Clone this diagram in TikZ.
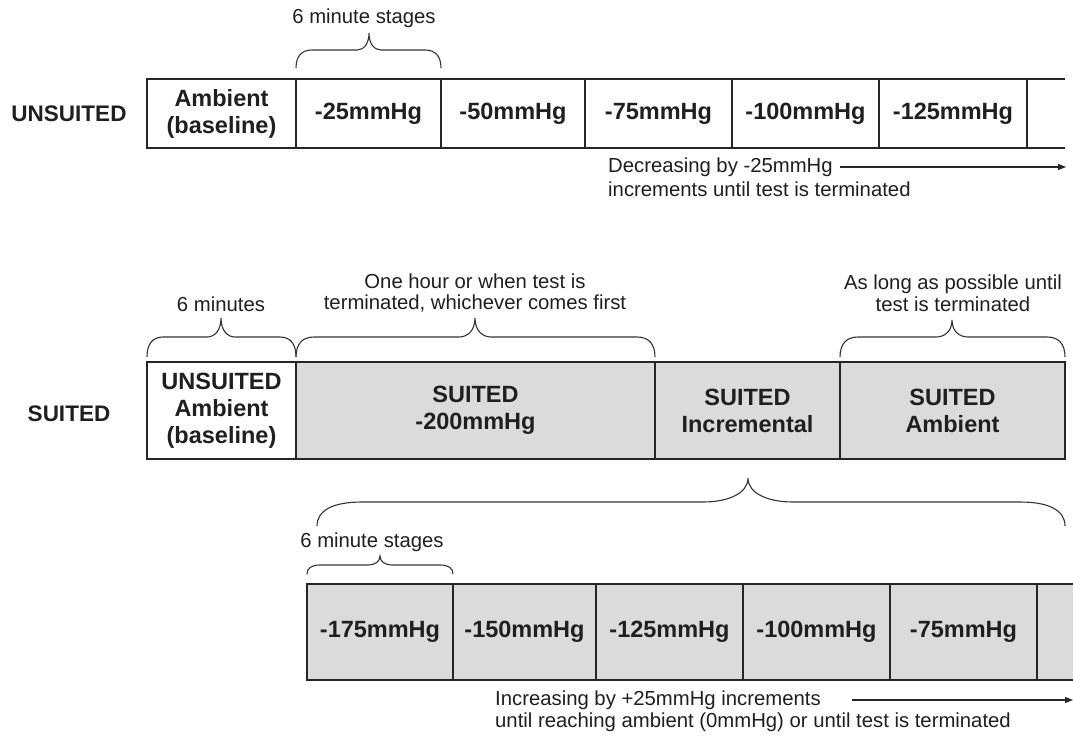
\documentclass[tikz,border=0pt]{standalone}
\usepackage{fontspec}
\setmainfont{Liberation Sans}
\usetikzlibrary{arrows.meta}
\newcommand\pbrace[8]{% x1, x2, xt, yend, yh, ytip, r, s
  \draw[bracestyle] (#1,#4) .. controls (#1,{#5+0.35*(#4-#5)}) and ({#1+0.35*#7},#5) .. ({#1+#7},#5)
   -- ({#3-#8},#5) .. controls ({#3-0.45*#8},#5) and (#3,{#5-0.35*(#5-#6)}) .. (#3,#6)
   .. controls (#3,{#5-0.35*(#5-#6)}) and ({#3+0.45*#8},#5) .. ({#3+#8},#5)
   -- ({#2-#7},#5) .. controls ({#2-0.35*#7},#5) and (#2,{#5+0.35*(#4-#5)}) .. (#2,#4);}
\tikzset{
  cell/.style={draw=black!85, line width=1.3pt, inner sep=0pt, outer sep=0pt, anchor=north west, align=center,
    font=\bfseries\fontsize{23.5}{27}\selectfont, text=black!88},
  gcell/.style={cell, fill=black!14},
  rowlabel/.style={font=\bfseries\fontsize{22.5}{27}\selectfont, text=black!88},
  note/.style={font=\fontsize{20.3}{21.5}\selectfont, text=black!88, inner sep=0pt, align=center},
  bracestyle/.style={draw=black!80, line width=1.1pt},
  openline/.style={draw=black!85, line width=1.3pt},
  arr/.style={draw=black!85, line width=1.1pt, -{Triangle[length=8pt,width=6pt]}}
}
\begin{document}
\begin{tikzpicture}[x=1pt,y=-1pt]
\useasboundingbox (0,0) rectangle (1073,736);
% ---------- UNSUITED row ----------
\node[rowlabel] (lu) at (69,114) {UNSUITED};
\node[cell, minimum width=149pt, minimum height=69pt] (u0) at (147,79) {Ambient\\(baseline)};
\node[cell, minimum width=145pt, minimum height=69pt] (u1) at (296,79) {-25mmHg};
\node[cell, minimum width=144pt, minimum height=69pt] (u2) at (441,79) {-50mmHg};
\node[cell, minimum width=147pt, minimum height=69pt] (u3) at (585,79) {-75mmHg};
\node[cell, minimum width=147pt, minimum height=69pt] (u4) at (732,79) {-100mmHg};
\node[cell, minimum width=148pt, minimum height=69pt] (u5) at (879,79) {-125mmHg};
\coordinate (uend1) at (1065,79);
\coordinate (uend2) at (1065,148);
\draw[openline] (u5.north east) -- (uend1);
\draw[openline] (u5.south east) -- (uend2);
\node[note] (t6a) at (364,18) {6 minute stages};
\pbrace{296}{441}{369}{68}{50}{33}{16}{12}
\node[note, anchor=west] (dec1) at (608,167) {Decreasing by -25mmHg};
\node[note, anchor=west] (dec2) at (608,189) {increments until test is terminated};
\coordinate (da1) at (840,167);
\coordinate (da2) at (1066,167);
\draw[arr] (da1) -- (da2);
% ---------- SUITED row ----------
\node[rowlabel] (ls) at (69,414) {SUITED};
\node[cell, minimum width=149pt, minimum height=97pt] (s0) at (147,362) {UNSUITED\\Ambient\\(baseline)};
\node[gcell, minimum width=359pt, minimum height=97pt] (s1) at (296,362) {SUITED\\-200mmHg};
\node[gcell, minimum width=185pt, minimum height=97pt] (s2) at (655,362) {SUITED\\Incremental};
\node[gcell, minimum width=225pt, minimum height=97pt] (s3) at (840,362) {SUITED\\Ambient};
\node[note] (t6m) at (221,304) {6 minutes};
\node[note] (t1h) at (475,293) {One hour or when test is\\terminated, whichever comes first};
\node[note] (tlong) at (953,293) {As long as possible until\\test is terminated};
\pbrace{147}{296}{221}{357}{337}{318}{16}{14}
\pbrace{296}{655}{475}{357}{337}{318}{18}{16}
\pbrace{840}{1065}{952}{357}{337}{320}{18}{16}
% big brace
\pbrace{317}{1065}{748}{526}{502}{478}{45}{45}
% ---------- Incremental row ----------
\node[note] (t6b) at (372,542) {6 minute stages};
\pbrace{307}{453}{380}{574}{565}{556}{13}{12}
\node[gcell, minimum width=146pt, minimum height=96pt] (b0) at (307,584) {-175mmHg};
\node[gcell, minimum width=143pt, minimum height=96pt] (b1) at (453,584) {-150mmHg};
\node[gcell, minimum width=147pt, minimum height=96pt] (b2) at (596,584) {-125mmHg};
\node[gcell, minimum width=147pt, minimum height=96pt] (b3) at (743,584) {-100mmHg};
\node[gcell, minimum width=147pt, minimum height=96pt] (b4) at (890,584) {-75mmHg};
\coordinate (bend1) at (1073,584);
\coordinate (bend2) at (1073,680);
\fill[black!14] (b4.north east) rectangle (bend2);
\draw[openline] (b4.north east) -- (bend1);
\draw[openline] (b4.south east) -- (bend2);
\draw[openline] (b4.north east) -- (b4.south east);
\node[note, anchor=west] (inc1) at (495,700) {Increasing by +25mmHg increments};
\node[note, anchor=west] (inc2) at (495,722) {until reaching ambient (0mmHg) or until test is terminated};
\coordinate (ia1) at (852,700);
\coordinate (ia2) at (1073,700);
\draw[arr] (ia1) -- (ia2);
\end{tikzpicture}
\end{document}
